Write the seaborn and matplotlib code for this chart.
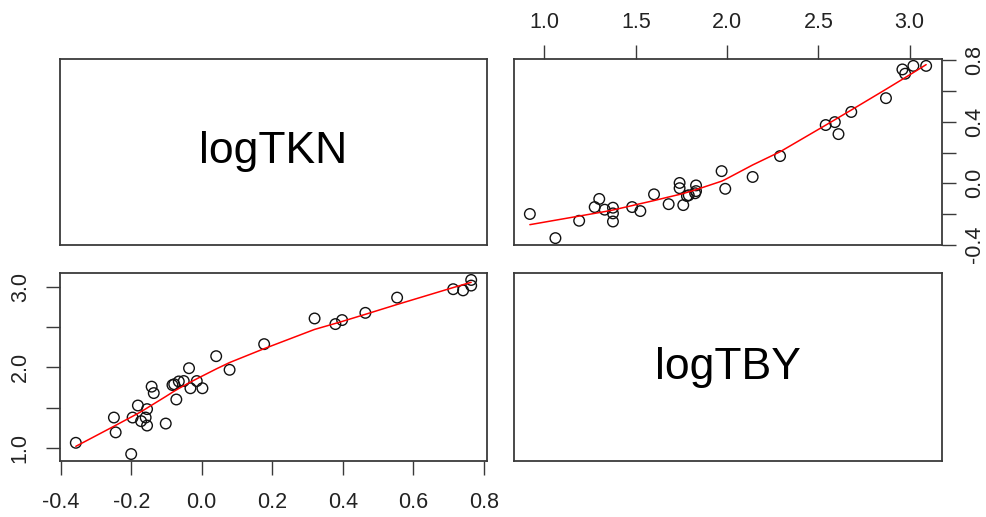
import numpy as np
import pandas as pd
import matplotlib
matplotlib.use("Agg")
import matplotlib.pyplot as plt
import seaborn as sns

logTKN = [-0.357, -0.249, -0.244, -0.200, -0.196, -0.181, -0.172, -0.159, -0.155, -0.155,
          -0.142, -0.136, -0.102, -0.083, -0.078, -0.072, -0.065, -0.051, -0.036, -0.032,
          -0.014, 0.002, 0.041, 0.079, 0.177, 0.320, 0.379, 0.398, 0.464, 0.554,
          0.713, 0.741, 0.764, 0.764]
logTBY = [1.06, 1.375, 1.19, 0.92, 1.375, 1.525, 1.33, 1.375, 1.48, 1.275,
          1.76, 1.68, 1.30, 1.78, 1.79, 1.60, 1.825, 1.83, 1.99, 1.74,
          1.83, 1.74, 2.14, 1.97, 2.29, 2.61, 2.54, 2.59, 2.68, 2.87,
          2.975, 2.96, 3.09, 3.02]
var_names = ["logTKN", "logTBY"]

tkn_ticks = [-0.4, -0.2, 0.0, 0.2, 0.4, 0.6, 0.8]
tkn_ticklabels_bottom = ["-0.4", "-0.2", "0.0", "0.2", "0.4", "0.6", "0.8"]
tkn_ticks_right = [-0.4, -0.2, 0.0, 0.2, 0.4, 0.6, 0.8]
tkn_ticklabels_right = ["-0.4", "", "0.0", "", "0.4", "", "0.8"]
tby_ticks_left = [1.0, 1.5, 2.0, 2.5, 3.0]
tby_ticklabels_left = ["1.0", "", "2.0", "", "3.0"]
tby_ticks_top = [1.0, 1.5, 2.0, 2.5, 3.0]
tby_ticklabels_top = ["1.0", "1.5", "2.0", "2.5", "3.0"]

df = pd.DataFrame({"logTKN": logTKN, "logTBY": logTBY})


def lowess(x, y, f=2/3, iters=3):
    x = np.asarray(x, float)
    y = np.asarray(y, float)
    order = np.argsort(x, kind="stable")
    x = x[order]; y = y[order]
    n = len(x)
    r = int(np.ceil(f * n))
    yest = np.zeros(n)
    delta = np.ones(n)
    for it in range(iters + 1):
        for i in range(n):
            d = np.abs(x - x[i])
            h = np.sort(d)[r - 1]
            w = np.clip(d / max(h, 1e-12), 0, 1)
            w = (1 - w ** 3) ** 3 * delta
            sw = w.sum()
            xm = (w * x).sum() / sw
            ym = (w * y).sum() / sw
            sxx = (w * (x - xm) ** 2).sum()
            if sxx > 1e-12:
                b = (w * (x - xm) * (y - ym)).sum() / sxx
            else:
                b = 0.0
            yest[i] = ym + b * (x[i] - xm)
        res = y - yest
        s = np.median(np.abs(res))
        if s == 0:
            break
        u = np.clip(res / (6 * s), -1, 1)
        delta = (1 - u ** 2) ** 2
    return x, yest


def ext(v):
    lo, hi = min(v), max(v)
    d = (hi - lo) * 0.04
    return lo - d, hi + d


sns.set_style("white")
plt.rcParams["font.family"] = ["Liberation Sans", "DejaVu Sans"]

fig = plt.figure(figsize=(9.87, 5.17), dpi=100)
W, H = 987, 517

def add_ax(x0, y0, x1, y1):
    return fig.add_axes([x0 / W, 1 - y1 / H, (x1 - x0) / W, (y1 - y0) / H])

ax_tl = add_ax(60, 59, 487, 245)
ax_tr = add_ax(514, 59, 942, 245)
ax_bl = add_ax(60, 273, 487, 461)
ax_br = add_ax(514, 273, 942, 461)

frame_col = "#3a3a3a"
for ax in (ax_tl, ax_tr, ax_bl, ax_br):
    for sp in ax.spines.values():
        sp.set_visible(True)
        sp.set_color(frame_col)
        sp.set_linewidth(1.3)
    ax.set_xticks([]); ax.set_yticks([])
    ax.set_xlabel(""); ax.set_ylabel("")

tkn_lim = ext(logTKN)
tby_lim = ext(logTBY)

# diagonal labels
for ax, name in ((ax_tl, var_names[0]), (ax_br, var_names[1])):
    ax.text(0.5, 0.5, name, transform=ax.transAxes, ha="center", va="center",
            fontsize=32, color="black")

tick_kw = dict(length=10, width=1.0, color="#3a3a3a", labelsize=15.5,
               labelcolor="#222222")

# bottom-left: x = logTKN, y = logTBY
sns.scatterplot(data=df, x="logTKN", y="logTBY", ax=ax_bl, marker="o",
                facecolor="none", edgecolor="#111111", linewidth=1.0, s=58)
lx, ly = lowess(logTKN, logTBY)
sns.lineplot(x=lx, y=ly, ax=ax_bl, color="red", linewidth=1.1, sort=False,
             estimator=None)
ax_bl.set_xlim(*tkn_lim); ax_bl.set_ylim(*tby_lim)
ax_bl.set_xticks(tkn_ticks); ax_bl.set_xticklabels(tkn_ticklabels_bottom)
ax_bl.set_yticks(tby_ticks_left)
ax_bl.set_yticklabels(tby_ticklabels_left, rotation=90, va="center")
ax_bl.tick_params(axis="x", bottom=True, pad=12, **tick_kw)
ax_bl.tick_params(axis="y", left=True, pad=11, **tick_kw)
ax_bl.set_xlabel(""); ax_bl.set_ylabel("")

# top-right: x = logTBY, y = logTKN
sns.scatterplot(data=df, x="logTBY", y="logTKN", ax=ax_tr, marker="o",
                facecolor="none", edgecolor="#111111", linewidth=1.0, s=58)
lx2, ly2 = lowess(logTBY, logTKN)
sns.lineplot(x=lx2, y=ly2, ax=ax_tr, color="red", linewidth=1.1, sort=False,
             estimator=None)
ax_tr.set_xlim(*tby_lim); ax_tr.set_ylim(*tkn_lim)
ax_tr.xaxis.tick_top()
ax_tr.yaxis.tick_right()
ax_tr.set_xticks(tby_ticks_top); ax_tr.set_xticklabels(tby_ticklabels_top)
ax_tr.set_yticks(tkn_ticks_right)
ax_tr.set_yticklabels(tkn_ticklabels_right, rotation=90, va="center")
ax_tr.tick_params(axis="x", top=True, bottom=False, labeltop=True,
                  labelbottom=False, pad=9, **tick_kw)
ax_tr.tick_params(axis="y", right=True, left=False, labelright=True,
                  labelleft=False, pad=6, **tick_kw)
ax_tr.set_xlabel(""); ax_tr.set_ylabel("")

fig.savefig("out.png", dpi=100)
